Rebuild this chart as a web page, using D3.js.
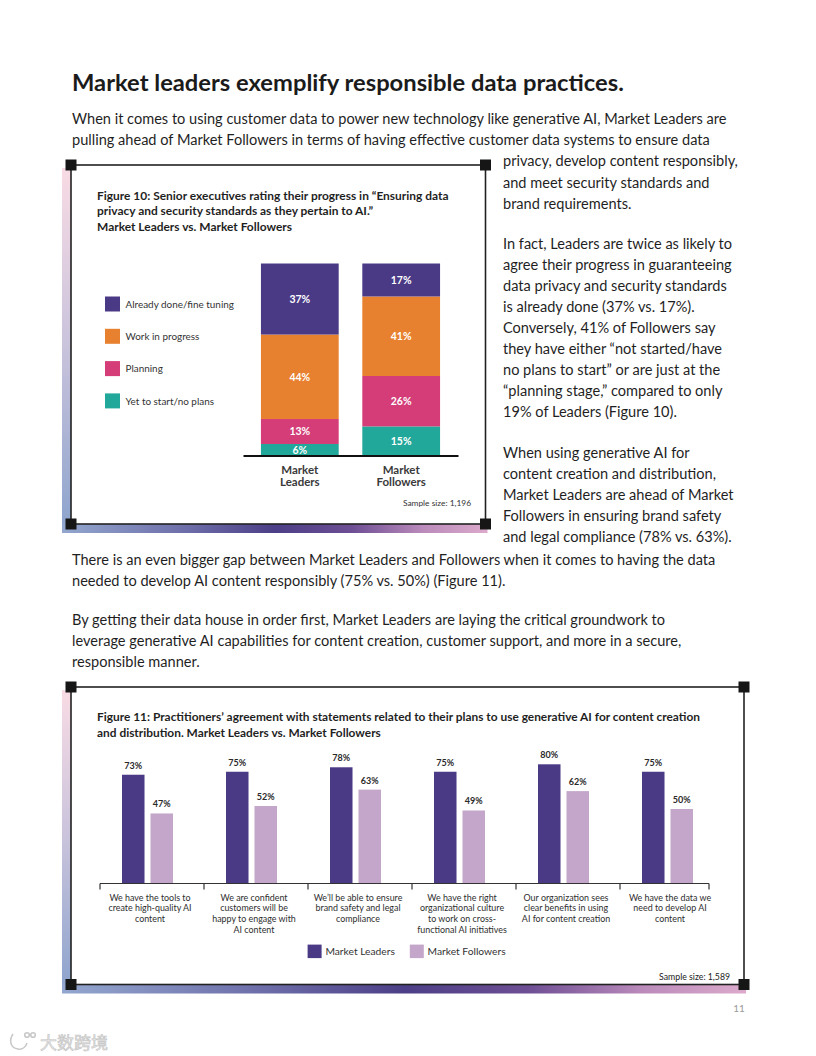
<!DOCTYPE html>
<html>
<head>
<meta charset="utf-8">
<script src="https://cdn.jsdelivr.net/npm/d3@7"></script>
<style>
  html, body { margin: 0; padding: 0; background: #fff; }
  svg { display: block; }
</style>
</head>
<body>
<script>
// Figure 10 data
const fig10Groups = ["Market Leaders", "Market Followers"];
const fig10Stages = ["Already done/fine tuning", "Work in progress", "Planning", "Yet to start/no plans"];
const fig10Leaders = [37, 44, 13, 6];
const fig10Followers = [17, 41, 26, 15];
const fig10Colors = ["#4a3a86", "#e8812f", "#d43d78", "#22a89a"];

// Figure 11 data
const fig11Series = ["Market Leaders", "Market Followers"];
const fig11Labels = [
    ["We have the tools to", "create high-quality AI", "content"],
    ["We are confident", "customers will be", "happy to engage with", "AI content"],
    ["We\u2019ll be able to ensure", "brand safety and legal", "compliance"],
    ["We have the right", "organizational culture", "to work on cross-", "functional AI initiatives"],
    ["Our organization sees", "clear benefits in using", "AI for content creation"],
    ["We have the data we", "need to develop AI", "content"]
];
const fig11Leaders = [73, 75, 78, 75, 80, 75];
const fig11Followers = [47, 52, 63, 49, 62, 50];
const fig11Colors = ["#4a3a86", "#c3a6c9"];

// Page text
const heading = "Market leaders exemplify responsible data practices.";
const introLines = [
    "When it comes to using customer data to power new technology like generative AI, Market Leaders are",
    "pulling ahead of Market Followers in terms of having effective customer data systems to ensure data"
];
const sideParas = [
    ["privacy, develop content responsibly,", "and meet security standards and", "brand requirements."],
    ["In fact, Leaders are twice as likely to", "agree their progress in guaranteeing", "data privacy and security standards",
     "is already done (37% vs. 17%).", "Conversely, 41% of Followers say", "they have either \u201cnot started/have",
     "no plans to start\u201d or are just at the", "\u201cplanning stage,\u201d compared to only", "19% of Leaders (Figure 10)."],
    ["When using generative AI for", "content creation and distribution,", "Market Leaders are ahead of Market",
     "Followers in ensuring brand safety", "and legal compliance (78% vs. 63%)."]
];
const lowerParas = [
    ["There is an even bigger gap between Market Leaders and Followers when it comes to having the data",
     "needed to develop AI content responsibly (75% vs. 50%) (Figure 11)."],
    ["By getting their data house in order first, Market Leaders are laying the critical groundwork to",
     "leverage generative AI capabilities for content creation, customer support, and more in a secure,",
     "responsible manner."]
];
const fig10Title = [
    "Figure 10: Senior executives rating their progress in \u201cEnsuring data",
    "privacy and security standards as they pertain to AI.\u201d",
    "Market Leaders vs. Market Followers"
];
const fig11Title = [
    "Figure 11: Practitioners\u2019 agreement with statements related to their plans to use generative AI for content creation",
    "and distribution. Market Leaders vs. Market Followers"
];
const fig10Sample = "Sample size: 1,196";
const fig11Sample = "Sample size: 1,589";

const FONT = "Lato, 'Open Sans', sans-serif";
const TEXT = "#1f1f1f";

var svg = d3.select("body").append("svg")
    .attr("width", 816)
    .attr("height", 1056)
    .style("font-family", FONT);

// Measure text so the proxy font lands on the same line widths
function textWidth(str, weight, size)
{
    let t = svg.append("text")
        .attr("font-weight", weight)
        .attr("font-size", size)
        .text(str);
    let w = t.node().getComputedTextLength();
    t.remove();
    return w;
}
function fitSize(str, weight, width)
{
    return 100 * width / textWidth(str, weight, 100);
}

function drawLines(lines, x, y0, lineHeight, size, weight, fill, anchor)
{
    let g = svg.append("g");
    g.selectAll("text")
        .data(lines)
        .join("text")
        .attr("x", x)
        .attr("y", (d, i) => y0 + i * lineHeight)
        .attr("font-size", size)
        .attr("font-weight", weight)
        .attr("fill", fill)
        .attr("text-anchor", anchor || "start")
        .text(d => d);
    return g;
}

// Gradients for the frame bands
var defs = svg.append("defs");
var gradV = defs.append("linearGradient").attr("id", "bandV")
    .attr("x1", 0).attr("y1", 0).attr("x2", 0).attr("y2", 1);
gradV.append("stop").attr("offset", 0).attr("stop-color", "#f8dbe4");
gradV.append("stop").attr("offset", 0.5).attr("stop-color", "#c9c3dc");
gradV.append("stop").attr("offset", 1).attr("stop-color", "#8ea4cd");
var gradH = defs.append("linearGradient").attr("id", "bandH")
    .attr("x1", 0).attr("y1", 0).attr("x2", 1).attr("y2", 0);
gradH.append("stop").attr("offset", 0).attr("stop-color", "#93a7cf");
gradH.append("stop").attr("offset", 0.3).attr("stop-color", "#6c6ca8");
gradH.append("stop").attr("offset", 0.5).attr("stop-color", "#4c3f87");
gradH.append("stop").attr("offset", 0.68).attr("stop-color", "#6d4e94");
gradH.append("stop").attr("offset", 0.85).attr("stop-color", "#bb8bbb");
gradH.append("stop").attr("offset", 1).attr("stop-color", "#dcaacb");

function drawFrame(x0, y0, x1, y1)
{
    const band = 9;
    svg.append("rect")
        .attr("x", x0 - band).attr("y", y0 + 3)
        .attr("width", band).attr("height", y1 - y0)
        .attr("fill", "url(#bandV)");
    svg.append("rect")
        .attr("x", x0 - band).attr("y", y1)
        .attr("width", x1 - x0 + band + 2).attr("height", band)
        .attr("fill", "url(#bandH)");
    svg.append("rect")
        .attr("x", x0).attr("y", y0)
        .attr("width", x1 - x0).attr("height", y1 - y0)
        .attr("fill", "#fff")
        .attr("stroke", "#222")
        .attr("stroke-width", 1.6);
    svg.selectAll(null)
        .data([[x0, y0], [x1, y0], [x0, y1], [x1, y1]])
        .join("rect")
        .attr("x", d => d[0] - 5.5).attr("y", d => d[1] - 5.5)
        .attr("width", 11).attr("height", 11)
        .attr("fill", "#161616");
}

// ---- Page text
const headSize = fitSize(heading, 700, 552);
svg.append("text")
    .attr("x", 72).attr("y", 91)
    .attr("font-size", headSize)
    .attr("font-weight", 700)
    .attr("fill", "#1b1b1b")
    .text(heading);

const bodySize = fitSize(introLines[0], 400, 655);
drawLines(introLines, 72, 124, 21.2, bodySize, 400, TEXT);
drawLines(sideParas[0], 503, 166.4, 21.1, bodySize, 400, TEXT);
drawLines(sideParas[1], 503, 248.5, 21.05, bodySize, 400, TEXT);
drawLines(sideParas[2], 503, 458.3, 20.9, bodySize, 400, TEXT);
drawLines(lowerParas[0], 72, 565, 21, bodySize, 400, TEXT);
drawLines(lowerParas[1], 72, 625, 21, bodySize, 400, TEXT);

// ---- Figure 10
function drawFigure10()
{
    drawFrame(71, 165, 485.5, 524);

    const titleSize = fitSize(fig10Title[0], 700, 352);
    drawLines(fig10Title, 97, 199.5, 15.9, titleSize, 700, "#1f1f1f");

    // Rows for the stack
    let rows = fig10Groups.map((g, gi) => {
        let r = { group: g };
        fig10Stages.forEach((s, si) => {
            r[s] = (gi === 0 ? fig10Leaders : fig10Followers)[si];
        });
        return r;
    });

    let keys = fig10Stages.slice().reverse();
    let series = d3.stack().keys(keys).offset(d3.stackOffsetExpand)(rows);
    let color = d3.scaleOrdinal().domain(fig10Stages).range(fig10Colors);

    var x = d3.scaleBand()
        .domain(fig10Groups)
        .range([243, 458])
        .paddingInner(0.233)
        .paddingOuter(0.177);

    var y = d3.scaleLinear()
        .domain([0, 1])
        .range([455.5, 263.5]);

    let layer = svg.append("g").selectAll("g")
        .data(series)
        .join("g")
        .attr("fill", d => color(d.key));

    layer.selectAll("rect")
        .data(d => d.map(p => Object.assign(p, { key: d.key })))
        .join("rect")
        .attr("x", d => x(d.data.group))
        .attr("y", d => y(d[1]))
        .attr("width", x.bandwidth())
        .attr("height", d => y(d[0]) - y(d[1]));

    layer.selectAll("text")
        .data(d => d)
        .join("text")
        .attr("x", d => x(d.data.group) + x.bandwidth() / 2)
        .attr("y", d => (y(d[0]) + y(d[1])) / 2 + 3.8)
        .attr("text-anchor", "middle")
        .attr("font-size", 10.5)
        .attr("font-weight", 700)
        .attr("fill", "#fff")
        .text(d => d.data[d.key] + "%");

    // Baseline
    svg.append("g")
        .attr("transform", "translate(0,455.5)")
        .call(d3.axisBottom(x).tickSize(0).tickSizeOuter(0).tickFormat(""))
        .call(g => g.select(".domain").attr("stroke", "#111").attr("stroke-width", 1.8));

    // Category labels
    fig10Groups.forEach(g => {
        drawLines(g.split(" "), x(g) + x.bandwidth() / 2, 473.5, 12.8, 11.5, 700, "#3a3a3a", "middle");
    });

    // Legend
    const legSize = fitSize(fig10Stages[0], 400, 108.7);
    let leg = svg.append("g").selectAll("g")
        .data(fig10Stages)
        .join("g")
        .attr("transform", (d, i) => "translate(105," + (296.5 + i * 32.3) + ")");
    leg.append("rect")
        .attr("width", 15).attr("height", 15)
        .attr("fill", d => color(d));
    leg.append("text")
        .attr("x", 20.5).attr("y", 11.2)
        .attr("font-size", legSize)
        .attr("fill", "#333")
        .text(d => d);

    svg.append("text")
        .attr("x", 471).attr("y", 505.5)
        .attr("text-anchor", "end")
        .attr("font-size", fitSize(fig10Sample, 400, 68.3))
        .attr("fill", "#333")
        .text(fig10Sample);
}

// ---- Figure 11
function drawFigure11()
{
    drawFrame(71, 687, 744, 984.5);

    const titleSize = fitSize(fig11Title[0], 700, 604);
    drawLines(fig11Title, 97, 721, 16, titleSize, 700, "#1f1f1f");

    let statements = fig11Labels.map(l => l.join(" "));
    let rows = statements.map((s, i) => ({
        stmt: s,
        values: [
            { key: fig11Series[0], v: fig11Leaders[i] },
            { key: fig11Series[1], v: fig11Followers[i] }
        ]
    }));

    var x = d3.scaleBand()
        .domain(statements)
        .range([100, 724]);

    var xInner = d3.scaleBand()
        .domain(fig11Series)
        .range([22, 73])
        .paddingInner(0.21);

    var y = d3.scaleLinear()
        .domain([0, 100])
        .range([883.5, 734.5]);

    let color = d3.scaleOrdinal().domain(fig11Series).range(fig11Colors);

    let grp = svg.append("g").selectAll("g")
        .data(rows)
        .join("g")
        .attr("transform", d => "translate(" + x(d.stmt) + ",0)");

    grp.selectAll("rect")
        .data(d => d.values)
        .join("rect")
        .attr("x", d => xInner(d.key))
        .attr("y", d => y(d.v))
        .attr("width", xInner.bandwidth())
        .attr("height", d => y(0) - y(d.v))
        .attr("fill", d => color(d.key));

    grp.selectAll("text.val")
        .data(d => d.values)
        .join("text")
        .attr("class", "val")
        .attr("x", d => xInner(d.key) + xInner.bandwidth() / 2)
        .attr("y", d => y(d.v) - 6)
        .attr("text-anchor", "middle")
        .attr("font-size", 9)
        .attr("font-weight", 700)
        .attr("fill", "#2a2a2a")
        .text(d => d.v + "%");

    // Baseline with separators between the statements
    const axisEnd = 709;
    let axis = svg.append("g").attr("stroke", "#333").attr("stroke-width", 1.2);
    axis.append("line")
        .attr("x1", x.range()[0]).attr("x2", axisEnd)
        .attr("y1", y(0)).attr("y2", y(0));
    axis.selectAll("line.tick")
        .data(statements.map(s => x(s)).concat([axisEnd]))
        .join("line")
        .attr("class", "tick")
        .attr("x1", d => d).attr("x2", d => d)
        .attr("y1", y(0)).attr("y2", y(0) + 6);

    // Statement labels
    const labSize = fitSize(fig11Labels[4][0], 400, 85);
    fig11Labels.forEach((lines, i) => {
        drawLines(lines, x(statements[i]) + 50, 900.5, 10.9, labSize, 400, "#2e2e2e", "middle");
    });

    // Legend
    const legSize = fitSize(fig11Series[0], 400, 69.6);
    let leg = svg.append("g").selectAll("g")
        .data(fig11Series)
        .join("g")
        .attr("transform", (d, i) => "translate(" + (307.6 + i * 102.2) + ",944.6)");
    leg.append("rect")
        .attr("width", 14).attr("height", 13.5)
        .attr("fill", d => color(d));
    leg.append("text")
        .attr("x", 17.8).attr("y", 10.8)
        .attr("font-size", legSize)
        .attr("fill", "#333")
        .text(d => d);

    svg.append("text")
        .attr("x", 730).attr("y", 979.5)
        .attr("text-anchor", "end")
        .attr("font-size", fitSize(fig11Sample, 400, 71))
        .attr("fill", "#222")
        .text(fig11Sample);
}

drawFigure10();
drawFigure11();

// Page number
svg.append("text")
    .attr("x", 739).attr("y", 1012)
    .attr("text-anchor", "middle")
    .attr("font-size", 10)
    .attr("fill", "#9a9a9a")
    .text("11");

// Watermark
let wm = svg.append("g").attr("fill", "none").attr("stroke", "#c9c9c9").attr("stroke-width", 1.6);
wm.append("path").attr("d", "M13,1034 C9,1040 10,1048 18,1049 C23,1050 26,1046 27,1043");
wm.append("circle").attr("cx", 27).attr("cy", 1035).attr("r", 2.3);
wm.append("circle").attr("cx", 33).attr("cy", 1035).attr("r", 2.3);
svg.append("text")
    .attr("x", 40).attr("y", 1049)
    .attr("font-family", "'Noto Sans CJK SC', sans-serif")
    .attr("font-size", 17)
    .attr("fill", "#e6e6e6")
    .attr("stroke", "#c4c4c4")
    .attr("stroke-width", 0.6)
    .text("大数跨境");
</script>
</body>
</html>
